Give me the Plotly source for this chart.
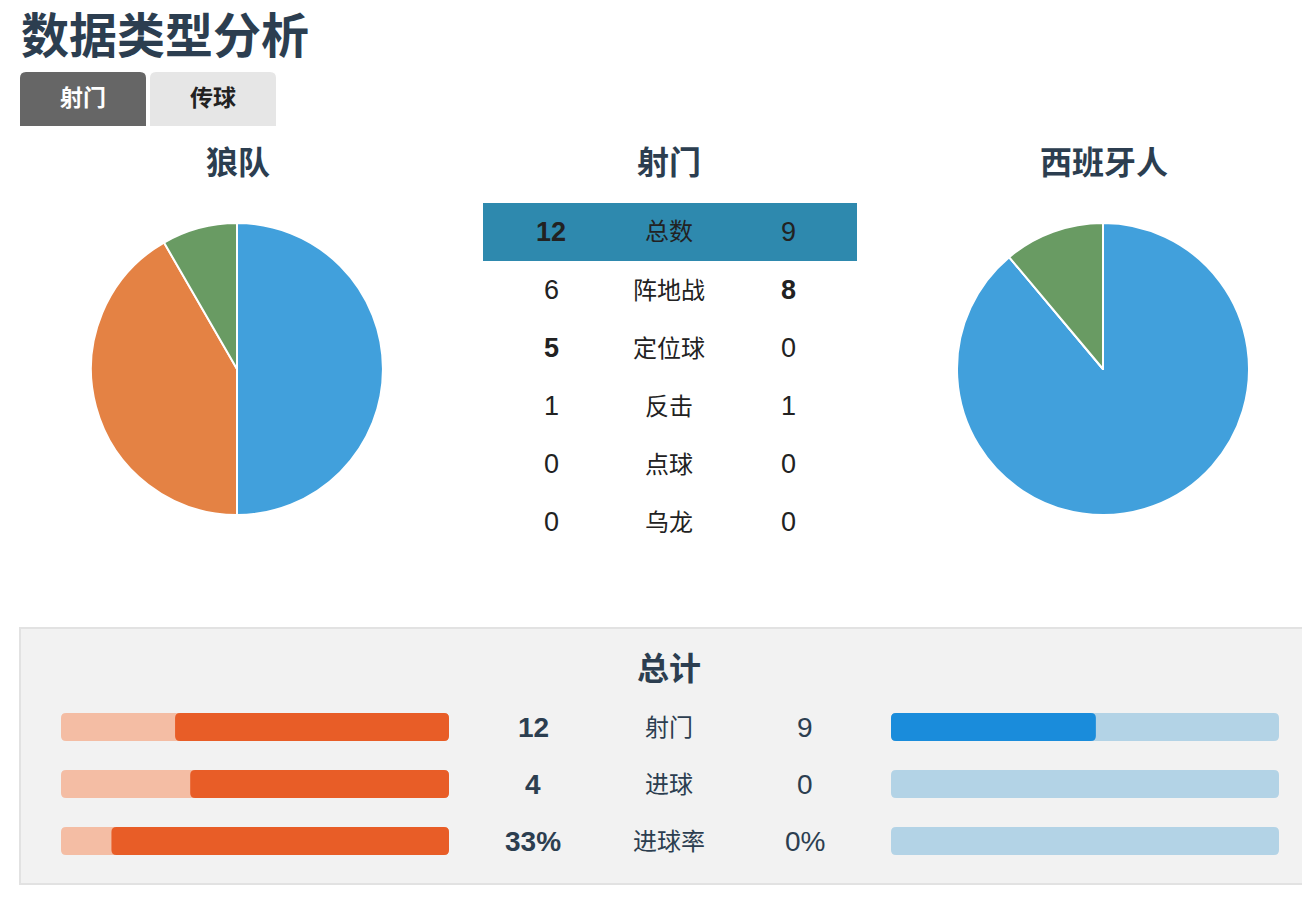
import plotly.graph_objects as go

# a página tem margem de 8px no body, então a figura fica 16px menor e tudo é deslocado
OFF = 8
W, H = 1310 - 2 * OFF, 920 - 2 * OFF

# dados
titulo = "数据类型分析"
abas = ["射门", "传球"]
time_casa = "狼队"
time_fora = "西班牙人"
categorias = ["阵地战", "定位球", "反击", "点球", "乌龙"]
casa_valores = [6, 5, 1, 0, 0]
fora_valores = [8, 0, 1, 0, 0]
total_casa = 12
total_fora = 9
cores_pizza = ["#41a0dc", "#e48244", "#699b63", "#9b59b6", "#95a5a6"]

resumo_labels = ["射门", "进球", "进球率"]
resumo_casa = ["12", "4", "33%"]
resumo_fora = ["9", "0", "0%"]
# fração preenchida de cada barra
barra_casa = [0.706, 0.667, 0.87]
barra_fora = [0.528, 0.0, 0.0]

fonte = "Liberation Sans, Noto Sans CJK SC, sans-serif"
azul_escuro = "#2c3e50"


def px(x):
    return (x - OFF) / W


def py(y):
    return 1 - (y - OFF) / H


fig = go.Figure()

# pizzas
for valores, x0 in [(casa_valores, 91), (fora_valores, 957)]:
    fig.add_trace(go.Pie(
        labels=categorias, values=valores, sort=False, direction="clockwise",
        marker=dict(colors=cores_pizza, line=dict(color="white", width=2)),
        textinfo="none", hoverinfo="label+value", showlegend=False,
        domain=dict(x=[px(x0), px(x0 + 292)], y=[py(515), py(223)])
    ))

# eixo das barras do resumo: largura 388px, linhas de 57px
LARG_BARRA = 388.0
ALT_LINHA = 57.0
ESP_BARRA = 0.49
RAIO = 5.0
linhas = list(range(len(resumo_labels)))


def retangulo_arredondado(xref, x0, x1, yc):
    # retângulo com cantos arredondados em coordenadas dos eixos
    rx = RAIO / LARG_BARRA
    ry = RAIO / ALT_LINHA
    y0, y1 = yc - ESP_BARRA / 2, yc + ESP_BARRA / 2
    p = ("M {a},{y0} L {b},{y0} Q {x1},{y0} {x1},{c} L {x1},{d} Q {x1},{y1} {b},{y1} "
         "L {a},{y1} Q {x0},{y1} {x0},{d} L {x0},{c} Q {x0},{y0} {a},{y0} Z").format(
        a=x0 + rx, b=x1 - rx, c=y0 + ry, d=y1 - ry, x0=x0, x1=x1, y0=y0, y1=y1)
    return p


shapes = []
annotations = []

for i in linhas:
    shapes.append(dict(type="path", xref="x", yref="y", path=retangulo_arredondado("x", 0, 1, i),
                       fillcolor="#f4bda4", line=dict(width=0)))
    if barra_casa[i] > 0:
        shapes.append(dict(type="path", xref="x", yref="y", path=retangulo_arredondado("x", 0, barra_casa[i], i),
                           fillcolor="#e85d27", line=dict(width=0)))
    shapes.append(dict(type="path", xref="x2", yref="y", path=retangulo_arredondado("x2", 0, 1, i),
                       fillcolor="#b3d3e6", line=dict(width=0)))
    if barra_fora[i] > 0:
        shapes.append(dict(type="path", xref="x2", yref="y", path=retangulo_arredondado("x2", 0, barra_fora[i], i),
                           fillcolor="#1a8cdb", line=dict(width=0)))

# traço invisível para ativar os eixos das barras
fig.add_trace(go.Scatter(x=[0], y=[0], xaxis="x", yaxis="y", mode="markers",
                         marker=dict(opacity=0), showlegend=False, hoverinfo="skip"))
fig.add_trace(go.Scatter(x=[0], y=[0], xaxis="x2", yaxis="y", mode="markers",
                         marker=dict(opacity=0), showlegend=False, hoverinfo="skip"))

fig.update_layout(
    width=W, height=H, margin=dict(l=0, r=0, t=0, b=0),
    paper_bgcolor="white", plot_bgcolor="rgba(0,0,0,0)",
    font=dict(family=fonte, color=azul_escuro),
    xaxis=dict(domain=[px(61), px(449)], range=[1, 0], visible=False, fixedrange=True),
    xaxis2=dict(domain=[px(891), px(1279)], range=[0, 1], visible=False, fixedrange=True),
    yaxis=dict(domain=[py(869.5), py(698.5)], range=[2.5, -0.5], visible=False, fixedrange=True),
    yaxis2=dict(domain=[py(551), py(203)], range=[5.5, -0.5], visible=False, fixedrange=True,
                anchor="x2"),
)


def texto(txt, x, y, tam, cor, yref="paper"):
    annotations.append(dict(text=txt, x=px(x), y=y if yref != "paper" else py(y), xref="paper", yref=yref,
                            xanchor="center", yanchor="middle", showarrow=False,
                            font=dict(size=tam, color=cor)))


# título
annotations.append(dict(text="<b>" + titulo + "</b>", x=px(19), y=py(36), xref="paper", yref="paper",
                        xanchor="left", yanchor="middle", showarrow=False,
                        font=dict(size=48, color=azul_escuro)))

# abas
for i, aba in enumerate(abas):
    x0 = 20 + i * 130
    ativa = i == 0
    shapes.append(dict(type="path", xref="paper", yref="paper",
                       path="M {a},{b} L {a},{c} Q {a},{d} {e},{d} L {f},{d} Q {g},{d} {g},{c} L {g},{b} Z".format(
                           a=px(x0), b=py(126), c=py(78), d=py(72), e=px(x0 + 6), f=px(x0 + 120), g=px(x0 + 126)),
                       fillcolor="#666666" if ativa else "#e6e6e6", line=dict(width=0), layer="below"))
    texto("<b>" + aba + "</b>", x0 + 63, 98, 23, "white" if ativa else "#222222")

# títulos das pizzas e da tabela
for txt, xc in [(time_casa, 238), ("射门", 669), (time_fora, 1104)]:
    texto("<b>" + txt + "</b>", xc, 163, 32, azul_escuro)

# tabela central
shapes.append(dict(type="rect", xref="paper", yref="y2", x0=px(483), x1=px(857), y0=-0.5, y1=0.5,
                   fillcolor="#2e89ae", line=dict(width=0), layer="below"))
linhas_tabela = [("总数", total_casa, total_fora)] + list(zip(categorias, casa_valores, fora_valores))
for i, (lab, a, b) in enumerate(linhas_tabela):
    ta = "<b>%d</b>" % a if a > b else "%d" % a
    tb = "<b>%d</b>" % b if b > a else "%d" % b
    texto(ta, 551, i, 27, "#222222", "y2")
    texto(lab, 669, i, 24, "#222222", "y2")
    texto(tb, 788, i, 27, "#222222", "y2")

# painel do resumo
shapes.append(dict(type="rect", xref="paper", yref="paper", x0=px(20), x1=px(1314), y0=py(884), y1=py(628),
                   fillcolor="#f2f2f2", line=dict(color="#e2e2e2", width=2), layer="below"))
texto("<b>总计</b>", 669, 669, 32, azul_escuro)
for i in linhas:
    texto("<b>" + resumo_casa[i] + "</b>", 533, i, 28, azul_escuro, "y")
    texto(resumo_labels[i], 669, i, 24, azul_escuro, "y")
    texto(resumo_fora[i], 805, i, 28, azul_escuro, "y")

fig.update_layout(shapes=shapes, annotations=annotations)

fig.write_html("out.html", config={"displayModeBar": False})
